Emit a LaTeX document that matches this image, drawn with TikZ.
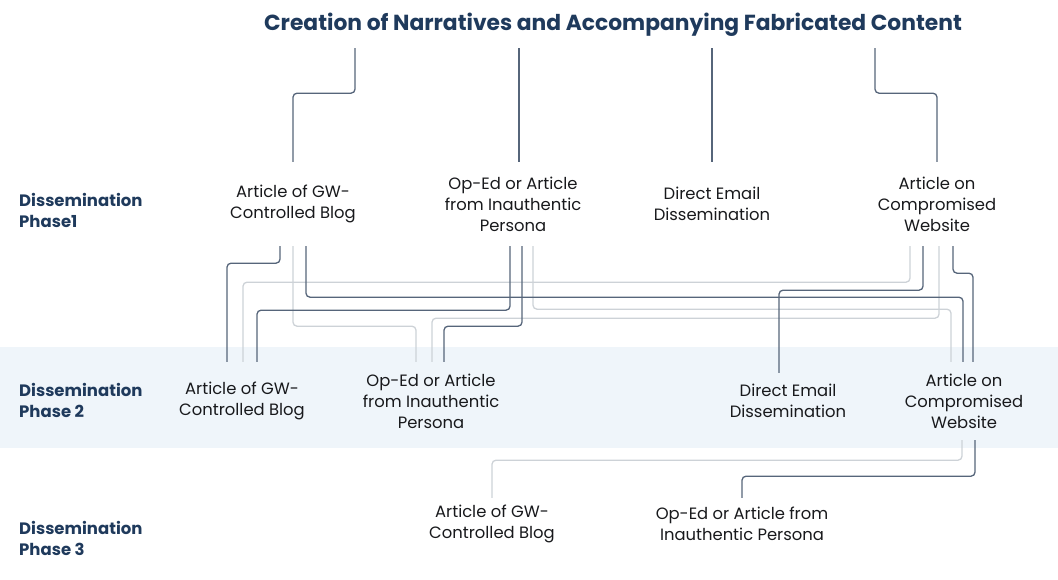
\documentclass[tikz,border=0pt]{standalone}
\usepackage{fontspec}
\setmainfont{Poppins}
\usetikzlibrary{positioning,calc}
\definecolor{navy}{HTML}{1F3A5C}
\definecolor{inkgray}{HTML}{18191C}
\definecolor{darkline}{HTML}{56657A}
\definecolor{lightline}{HTML}{CDD2D7}
\definecolor{bandblue}{HTML}{EFF5FA}

\begin{document}
\begin{tikzpicture}[x=1pt,y=-1pt,
    entry/.style={align=center,text=inkgray,font=\fontsize{16.4}{21}\selectfont,inner sep=0pt,minimum height=#1},
    entry/.default=84,
    phase/.style={align=left,anchor=west,text=navy,font=\bfseries\fontsize{16.5}{21}\selectfont,inner sep=0pt},
    dk/.style={draw=darkline,line width=1.3pt,rounded corners=4pt},
    lt/.style={draw=lightline,line width=1.3pt,rounded corners=4pt}]
\useasboundingbox (0,0) rectangle (1058,580);
% phase 2 band
\fill[bandblue] (0,347) rectangle (1058,448);
% title
\node[font=\bfseries\fontsize{21.8}{24}\selectfont,text=navy,minimum height=46,inner sep=0pt] (title) at (613,25)
  {Creation of Narratives and Accompanying Fabricated Content};
% phase labels
\node[phase] (ph1) at (19,210) {Dissemination\\Phase1};
\node[phase] (ph2) at (19,400) {Dissemination\\Phase 2};
\node[phase] (ph3) at (19,538) {Dissemination\\Phase 3};
% phase 1
\node[entry] (blogA) at (293,204) {Article of GW-\\Controlled Blog};
\node[entry] (opedA) at (513,204) {Op-Ed or Article\\from Inauthentic\\Persona};
\node[entry] (mailA) at (712,204) {Direct Email\\Dissemination};
\node[entry] (webA)  at (937,204) {Article on\\Compromised\\Website};
% phase 2
\node[entry=78] (blogB) at (242,401) {Article of GW-\\Controlled Blog};
\node[entry=78] (opedB) at (431,401) {Op-Ed or Article\\from Inauthentic\\Persona};
\node[entry=56] (mailB) at (788,401) {Direct Email\\Dissemination};
\node[entry=78] (webB)  at (964,401) {Article on\\Compromised\\Website};
% phase 3
\node[entry=52] (blogC) at (492,524) {Article of GW-\\Controlled Blog};
\node[entry=52] (opedC) at (742,524) {Op-Ed or Article from\\Inauthentic Persona};
% title -> phase 1
\draw[dk] ([xshift=-258pt]title.south) -- ++(0,45) -| (blogA.north);
\draw[dk] ([xshift=-94pt]title.south) -- ([xshift=6pt]opedA.north);
\draw[dk] ([xshift=99pt]title.south) -- (mailA.north);
\draw[dk] ([xshift=262pt]title.south) -- ++(0,45) -| (webA.north);
% phase 1 -> phase 2 (light first, dark on top)
\foreach \from/\fx/\dy/\to/\tx in {blogA/0/80/opedB/-15, opedA/20/63/webB/-13,
    webA/-27/36/blogB/1, webA/2/72/opedB/1} {
  \draw[lt] ([xshift=\fx pt]\from.south) -- ++(0,\dy) -| ([xshift=\tx pt]\to.north);
}
\foreach \from/\fx/\dy/\to/\tx in {blogA/-13/17/blogB/-15, blogA/13/51/webB/-1,
    opedA/-3/64/blogB/15, opedA/9/80/opedB/13, webA/-14/44/mailB/-9, webA/16/27/webB/9} {
  \draw[dk] ([xshift=\fx pt]\from.south) -- ++(0,\dy) -| ([xshift=\tx pt]\to.north);
}
% phase 2 -> phase 3
\draw[lt] ([xshift=-2pt]webB.south) -- ++(0,20) -| (blogC.north);
\draw[dk] ([xshift=11pt]webB.south) -- ++(0,36) -| (opedC.north);
\end{tikzpicture}
\end{document}
